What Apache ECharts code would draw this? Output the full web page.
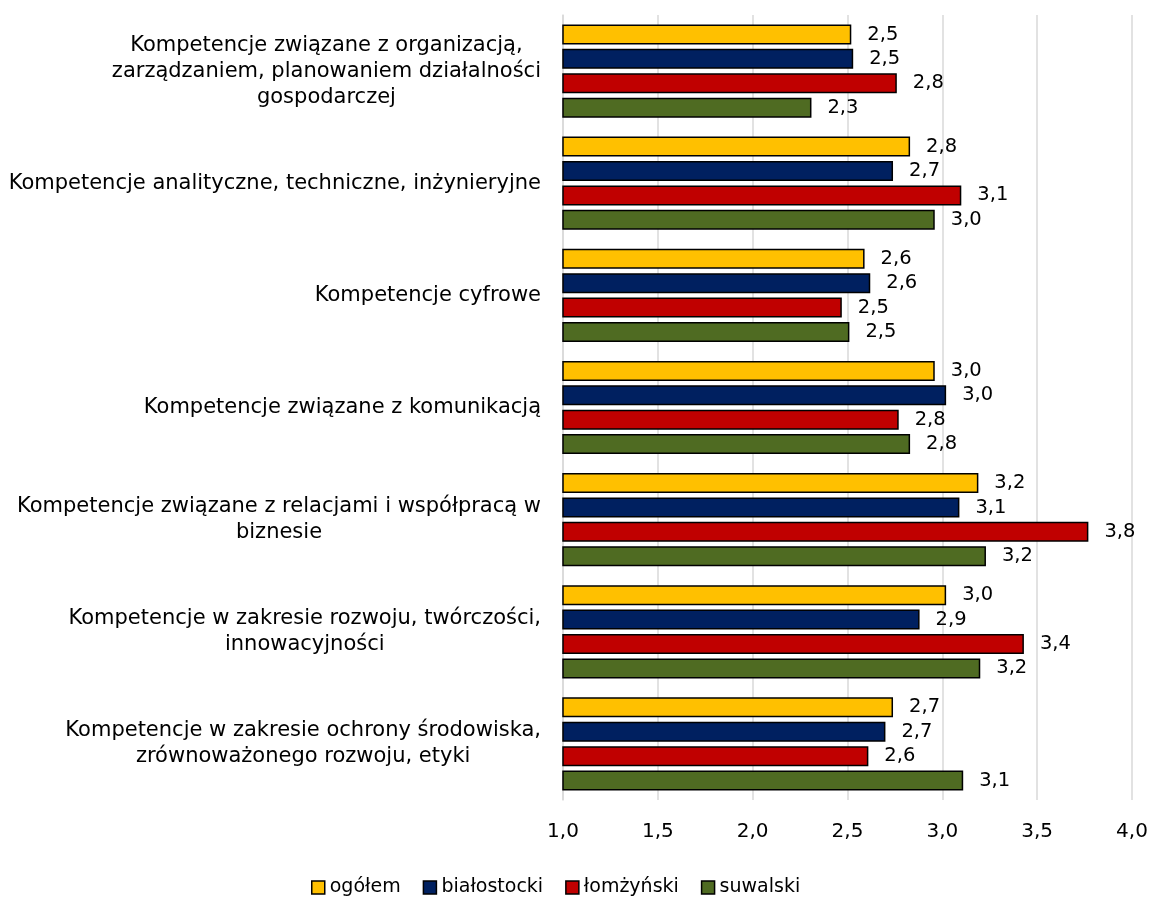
<!DOCTYPE html>
<html>
<head>
<meta charset="utf-8">
<script src="https://cdn.jsdelivr.net/npm/echarts@6/dist/echarts.min.js"></script>
<style>
  html, body { margin: 0; padding: 0; background: #fff; }
  #main { width: 1154px; height: 897px; }
</style>
</head>
<body>
<div id="main"></div>
<script>
var categories = [
  'Kompetencje związane z organizacją,\nzarządzaniem, planowaniem działalności\ngospodarczej',
  'Kompetencje analityczne, techniczne, inżynieryjne',
  'Kompetencje cyfrowe',
  'Kompetencje związane z komunikacją',
  'Kompetencje związane z relacjami i współpracą w\nbiznesie',
  'Kompetencje w zakresie rozwoju, twórczości,\ninnowacyjności',
  'Kompetencje w zakresie ochrony środowiska,\nzrównoważonego rozwoju, etyki'
]
var seriesNames = ['ogółem', 'białostocki', 'łomżyński', 'suwalski']
var ogolem = [2.52, 2.83, 2.59, 2.96, 3.19, 3.02, 2.74]
var bialostocki = [2.53, 2.74, 2.62, 3.02, 3.09, 2.88, 2.70]
var lomzynski = [2.76, 3.1, 2.47, 2.77, 3.77, 3.43, 2.61]
var suwalski = [2.31, 2.96, 2.51, 2.83, 3.23, 3.2, 3.11]
var xTicks = ['1,0', '1,5', '2,0', '2,5', '3,0', '3,5', '4,0']

var colors = ['#FFC000', '#002060', '#C00000', '#4F6B22']
var font = "'DejaVu Sans', Verdana, sans-serif"

function makeSeries(name, data, i) {
  return {
    name: name,
    type: 'bar',
    data: data,
    barWidth: 20,
    barGap: '22%',
    itemStyle: {
      color: colors[i],
      borderColor: '#000',
      borderWidth: 1.5
    },
    label: {
      show: true,
      position: 'right',
      distance: 16,
      color: '#000',
      fontFamily: font,
      fontSize: 19.5,
      formatter: function (p) {
        return p.value.toFixed(1).replace('.', ',')
      }
    }
  }
}

var myChart = echarts.init(document.getElementById('main'))
var option = {
  backgroundColor: '#fff',
  animation: false,
  legend: {
    top: 873,
    left: 306,
    itemWidth: 13,
    itemHeight: 13,
    itemGap: 22,
    textStyle: { fontFamily: font, fontSize: 19, color: '#000' },
    data: seriesNames.map(function (n, i) {
      return {
        name: n,
        icon: 'rect',
        itemStyle: { color: colors[i], borderColor: '#000', borderWidth: 1.5 }
      }
    })
  },
  grid: {
    left: 563,
    right: 22,
    top: 15,
    bottom: 97
  },
  xAxis: {
    type: 'value',
    min: 1,
    max: 4,
    interval: 0.5,
    axisLine: { show: false },
    axisTick: { show: false },
    splitLine: { show: true, lineStyle: { color: '#D9D9D9', width: 1.5 } },
    axisLabel: {
      margin: 22,
      color: '#000',
      fontFamily: font,
      fontSize: 20,
      formatter: function (v) {
        return xTicks[Math.round((v - 1) / 0.5)]
      }
    }
  },
  yAxis: {
    type: 'category',
    inverse: true,
    data: categories,
    axisTick: { show: false },
    axisLine: { show: true, lineStyle: { color: '#D9D9D9', width: 1.5 } },
    axisLabel: {
      margin: 22,
      color: '#000',
      fontFamily: font,
      fontSize: 21,
      lineHeight: 26,
      formatter: function (v) {
        return v.split('\n').map(function (l) { return '{c|' + l + '}' }).join('\n')
      },
      rich: {
        c: { align: 'center', fontFamily: font, fontSize: 21, lineHeight: 26, color: '#000' }
      }
    }
  },
  series: [
    makeSeries(seriesNames[0], ogolem, 0),
    makeSeries(seriesNames[1], bialostocki, 1),
    makeSeries(seriesNames[2], lomzynski, 2),
    makeSeries(seriesNames[3], suwalski, 3)
  ]
}
myChart.setOption(option)
</script>
</body>
</html>
